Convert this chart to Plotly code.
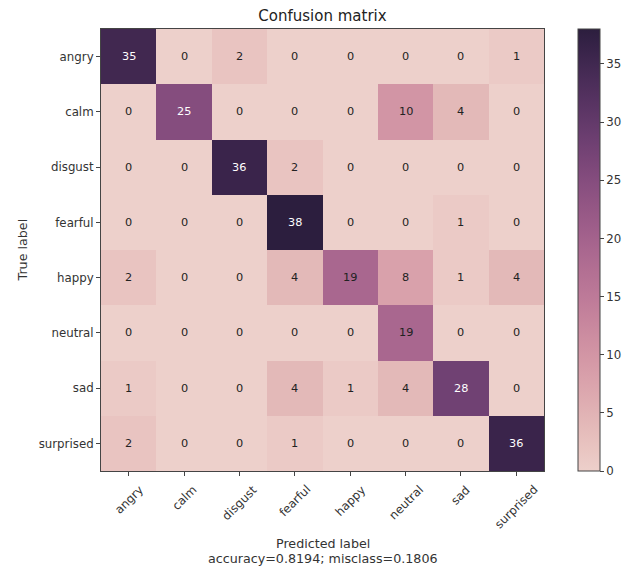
import numpy as np
import plotly.graph_objects as go

labels = ["angry", "calm", "disgust", "fearful", "happy", "neutral", "sad", "surprised"]
row_angry = [35, 0, 2, 0, 0, 0, 0, 1]
row_calm = [0, 25, 0, 0, 0, 10, 4, 0]
row_disgust = [0, 0, 36, 2, 0, 0, 0, 0]
row_fearful = [0, 0, 0, 38, 0, 0, 1, 0]
row_happy = [2, 0, 0, 4, 19, 8, 1, 4]
row_neutral = [0, 0, 0, 0, 0, 19, 0, 0]
row_sad = [1, 0, 0, 4, 1, 4, 28, 0]
row_surprised = [2, 0, 0, 1, 0, 0, 0, 36]
cm = np.array([row_angry, row_calm, row_disgust, row_fearful,
               row_happy, row_neutral, row_sad, row_surprised])

accuracy = np.trace(cm) / cm.sum()
misclass = 1 - accuracy

# seaborn default cubehelix_palette colormap (start=0, rot=.4, hue=.8, light=.85, dark=.15)
def cubehelix(x, gamma=1.0, start=0.0, rot=0.4, hue=0.8):
    xg = x ** gamma
    a = hue * xg * (1 - xg) / 2
    phi = 2 * np.pi * (start / 3 + rot * x)
    r = xg + a * (-0.14861 * np.cos(phi) + 1.78277 * np.sin(phi))
    g = xg + a * (-0.29227 * np.cos(phi) - 0.90649 * np.sin(phi))
    b = xg + a * (1.97294 * np.cos(phi))
    return [min(max(v, 0), 1) for v in (r, g, b)]

n = 21
colorscale = []
for i, t in enumerate(np.linspace(0.85, 0.15, n)):
    r, g, b = cubehelix(t)
    colorscale.append([i / (n - 1), f"rgb({int(r*255)},{int(g*255)},{int(b*255)})"])

# page has an 8px body margin: figure spans 8..636 x 8..567
W, H = 628, 559
L, T = 93, 21
PW, PH = 443, 442
R = W - L - PW
B = H - T - PH

FONT = "DejaVu Sans"
fig = go.Figure()
fig.add_trace(go.Heatmap(
    z=cm, x=labels, y=labels, zmin=0, zmax=38,
    colorscale=colorscale, hoverinfo="skip",
    colorbar=dict(
        x=(570 - L) / PW, xanchor="left", xpad=0, ypad=0, thickness=22,
        lenmode="pixels", len=PH, y=0.5, yanchor="middle",
        outlinewidth=1, outlinecolor="#444",
        tickvals=[0, 5, 10, 15, 20, 25, 30, 35],
        ticks="outside", ticklen=4, tickcolor="#444",
        tickfont=dict(family=FONT, size=11.8, color="#333"),
    ),
))

thresh = cm.max() / 2
for i in range(cm.shape[0]):
    for j in range(cm.shape[1]):
        fig.add_annotation(
            x=labels[j], y=labels[i], text=str(cm[i, j]), showarrow=False,
            font=dict(family=FONT, size=11.3,
                      color="white" if cm[i, j] > thresh else "#222"),
        )

# x tick labels rotated 45 deg, centred under the ticks (matplotlib style)
for lab in labels:
    fig.add_annotation(
        x=lab, xref="x", y=0, yref="paper", xanchor="center", yanchor="top",
        yshift=-9, textangle=-45, text=lab, showarrow=False,
        font=dict(family=FONT, size=11.8, color="#333"),
    )

fig.add_annotation(
    xref="paper", yref="paper", x=0.5, y=0, yanchor="middle", yshift=-72,
    text="Predicted label", showarrow=False,
    font=dict(family=FONT, size=12.7, color="#333"),
)
fig.add_annotation(
    xref="paper", yref="paper", x=0.5, y=0, yanchor="middle", yshift=-87,
    text=f"accuracy={accuracy:0.4f}; misclass={misclass:0.4f}", showarrow=False,
    font=dict(family=FONT, size=12.7, color="#333"),
)
fig.add_annotation(
    xref="paper", yref="paper", x=0, xanchor="center", xshift=-79.5, y=0.5,
    text="True label", textangle=-90, showarrow=False,
    font=dict(family=FONT, size=12.7, color="#333"),
)

fig.update_layout(
    width=W, height=H,
    margin=dict(l=L, r=R, t=T, b=B),
    paper_bgcolor="white", plot_bgcolor="white",
    title=dict(text="Confusion matrix", x=(L + PW / 2) / W, xanchor="center",
               y=1 - 8 / H, yanchor="middle",
               font=dict(family=FONT, size=15, color="#222")),
    xaxis=dict(ticks="outside", ticklen=4, tickcolor="#444", showticklabels=False,
               showline=True, linecolor="#444", linewidth=1, mirror=True,
               showgrid=False, zeroline=False),
    yaxis=dict(autorange="reversed", ticks="outside", ticklen=4, tickcolor="#444",
               showline=True, linecolor="#444", linewidth=1, mirror=True,
               tickfont=dict(family=FONT, size=11.8, color="#333"),
               showgrid=False, zeroline=False),
)

fig.write_html("out.html")
